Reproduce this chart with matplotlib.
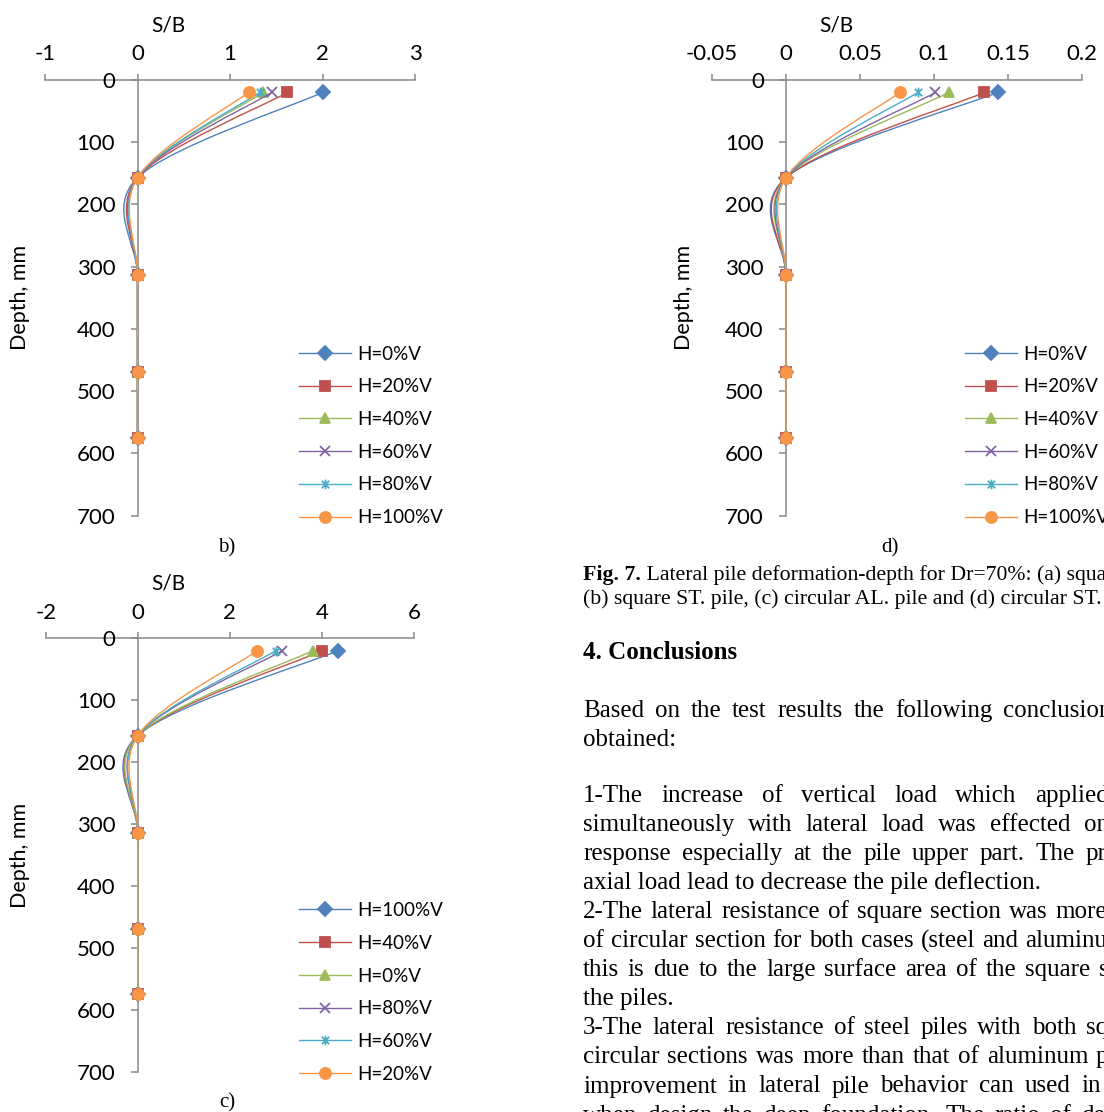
import numpy as np
import matplotlib
matplotlib.use('Agg')
import matplotlib.pyplot as plt
from matplotlib.path import Path
from matplotlib.patches import PathPatch
from matplotlib.lines import Line2D

W, H = 1104, 1112
plt.rcParams['font.family'] = ['Lato', 'DejaVu Sans']

# depth of the gauges along the pile (mm)
depth = [20, 157, 314, 469, 575]

# b) square ST. pile
b_labels = ['H=0%V', 'H=20%V', 'H=40%V', 'H=60%V', 'H=80%V', 'H=100%V']
b_sb = [[2.00, 0, 0, 0, 0],
        [1.62, 0, 0, 0, 0],
        [1.36, 0, 0, 0, 0],
        [1.45, 0, 0, 0, 0],
        [1.32, 0, 0, 0, 0],
        [1.20, 0, 0, 0, 0]]

# d) circular ST. pile
d_labels = ['H=0%V', 'H=20%V', 'H=40%V', 'H=60%V', 'H=80%V', 'H=100%V']
d_sb = [[0.143, 0, 0, 0, 0],
        [0.134, 0, 0, 0, 0],
        [0.110, 0, 0, 0, 0],
        [0.101, 0, 0, 0, 0],
        [0.089, 0, 0, 0, 0],
        [0.077, 0, 0, 0, 0]]

# c) circular AL. pile
c_labels = ['H=100%V', 'H=40%V', 'H=0%V', 'H=80%V', 'H=60%V', 'H=20%V']
c_sb = [[4.35, 0, 0, 0, 0],
        [4.00, 0, 0, 0, 0],
        [3.80, 0, 0, 0, 0],
        [3.14, 0, 0, 0, 0],
        [3.00, 0, 0, 0, 0],
        [2.60, 0, 0, 0, 0]]

depth_ticks = [0, 100, 200, 300, 400, 500, 600, 700]

colors = ['#4F81BD', '#C0504D', '#9BBB59', '#8064A2', '#4BACC6', '#F79646']
star = Path([(-1, -1), (1, 1), (-1, 1), (1, -1), (0, -1.3), (0, 1.3)],
            [Path.MOVETO, Path.LINETO, Path.MOVETO, Path.LINETO, Path.MOVETO, Path.LINETO])
markers = ['D', 's', '^', 'x', star, 'o']
msizes = [6.8, 7.5, 7.5, 7.0, 7.0, 8.0]
GRAY = '#898989'


def smooth_path(x, y):
    # excel-like smoothed line: cubic bezier through the points
    pts = np.column_stack([x, y]).astype(float)
    n = len(pts)
    verts = [pts[0]]
    codes = [Path.MOVETO]
    for i in range(n - 1):
        p0 = pts[max(i - 1, 0)]
        p1 = pts[i]
        p2 = pts[i + 1]
        p3 = pts[min(i + 2, n - 1)]
        verts += [p1 + (p2 - p0) / 6, p2 - (p3 - p1) / 6, p2]
        codes += [Path.CURVE4] * 3
    return Path(verts, codes)


def add_axes(fig, l, t, r, b):
    return fig.add_axes([l / W, 1 - b / H, (r - l) / W, (b - t) / H])


def panel(fig, ax, sb, labels, xlim, xticks, xticklabels, leg_x, leg_y, xlab, ylab):
    for i, row in enumerate(sb):
        ax.add_patch(PathPatch(smooth_path(row, depth), fc='none', ec=colors[i],
                               lw=1.0, zorder=3 + i))
        ax.plot(row, depth, ls='none', marker=markers[i], ms=msizes[i],
                color=colors[i], mew=1.3, zorder=3 + i, clip_on=False)

    ax.set_xlim(xlim)
    ax.set_ylim(700, 0)
    ax.patch.set_visible(False)
    for s in ['right', 'bottom']:
        ax.spines[s].set_visible(False)
    ax.spines['left'].set_position(('data', 0))
    for s in ['left', 'top']:
        ax.spines[s].set_color(GRAY)
        ax.spines[s].set_linewidth(1.1)
        ax.spines[s].set_zorder(1)

    ax.xaxis.tick_top()
    ax.set_xticks(xticks, xticklabels)
    ax.set_yticks(depth_ticks, [str(v) for v in depth_ticks])
    ax.tick_params(axis='x', direction='out', length=4.3, width=1.1, color=GRAY,
                   pad=7, labelsize=16)
    ax.tick_params(axis='y', direction='out', length=5, width=1.1, color=GRAY,
                   pad=11, labelsize=16)

    ax.xaxis.set_label_position('top')
    ax.set_xlabel('S/B', fontsize=15)
    ax.xaxis.set_label_coords(xlab[0], xlab[1])
    ax.set_ylabel('Depth, mm', fontsize=15.5)
    ax.yaxis.set_label_coords(ylab[0], ylab[1])

    handles = [Line2D([], [], color=colors[i], lw=1.0, marker=markers[i],
                      ms=msizes[i], mew=1.3) for i in range(len(labels))]
    fig.legend(handles, labels, loc='upper left',
               bbox_to_anchor=(leg_x / W, 1 - leg_y / H), frameon=False,
               borderpad=0, borderaxespad=0, handlelength=2.77, handletextpad=0.33,
               labelspacing=0.84, prop={'family': 'Lato', 'size': 13.5})


fig = plt.figure(figsize=(W / 100, H / 100), dpi=100)

ax_b = add_axes(fig, 45, 80, 415, 515.6)
panel(fig, ax_b, b_sb, b_labels, (-1, 3), [-1, 0, 1, 2, 3],
      ['-1', '0', '1', '2', '3'], 299, 345.5, (0.333, 1.112), (-0.04, 0.5))

ax_d = add_axes(fig, 712, 80, 1082, 515.6)
panel(fig, ax_d, d_sb, d_labels, (-0.05, 0.2), [-0.05, 0, 0.05, 0.1, 0.15, 0.2],
      ['-0.05', '0', '0.05', '0.1', '0.15', '0.2'], 965, 345.5,
      (0.335, 1.112), (-0.049, 0.5))

ax_c = add_axes(fig, 45.7, 638.3, 414, 1071.7)
panel(fig, ax_c, c_sb, c_labels, (-2, 6), [-2, 0, 2, 4, 6],
      ['-2', '0', '2', '4', '6'], 299, 902, (0.333, 1.112), (-0.043, 0.5))

serif = 'Liberation Serif'
fig.text(227 / W, 1 - 548 / H, 'b)', family=serif, size=15, ha='center', va='center')
fig.text(890 / W, 1 - 548 / H, 'd)', family=serif, size=15, ha='center', va='center')
fig.text(227 / W, 1 - 1103 / H, 'c)', family=serif, size=15, ha='center', va='center')

renderer = fig.canvas.get_renderer()
X0 = 583


def put(x, y, s, **kw):
    return fig.text(x / W, 1 - y / H, s, va='baseline', family=serif, **kw)


def justify(words, y, x_last, size):
    # spread the words so that the last one starts at x_last
    texts = [put(0, y, w, size=size) for w in words]
    widths = [t.get_window_extent(renderer).width for t in texts[:-1]]
    gap = (x_last - X0 - sum(widths)) / (len(words) - 1)
    x = X0
    for t, w in zip(texts, widths + [0]):
        t.set_x(x / W)
        x += w + gap


# caption
cap_size = 15.7
bold = put(X0, 580, 'Fig. 7.', size=cap_size, weight='bold')
bw = bold.get_window_extent(renderer).width
put(X0 + bw, 580, ' Lateral pile deformation-depth for Dr=70%: (a) square AL. pile,',
    size=cap_size)
put(X0, 604, '(b) square ST. pile, (c) circular AL. pile and (d) circular ST. pile.',
    size=cap_size)

put(X0, 659, '4. Conclusions', size=18, weight='bold')

body = 18
justify('Based on the test results the following conclusions'.split(), 717, 1003, body)
put(X0, 746, 'obtained:', size=body)

para = [
    ('1-The increase of vertical load which applied', 1035),
    ('simultaneously with lateral load was effected on', 1084),
    ('response especially at the pile upper part. The presence', 1086),
    ('axial load lead to decrease the pile deflection.', None),
    ('2-The lateral resistance of square section was more', 1055),
    ('of circular section for both cases (steel and aluminum)', 1025),
    ('this is due to the large surface area of the square section', 1099),
    ('the piles.', None),
    ('3-The lateral resistance of steel piles with both square', 1086),
    ('circular sections was more than that of aluminum piles', 1096),
    ('improvement in lateral pile behavior can used in the', 1112),
    ('when design the deep foundation. The ratio of deflection', 1081),
]
for k, (line, x_last) in enumerate(para):
    y = 802 + 29.05 * k
    if x_last is None:
        put(X0, y, line, size=body)
    else:
        justify(line.split(), y, x_last, body)

fig.savefig('out.png', dpi=100)
